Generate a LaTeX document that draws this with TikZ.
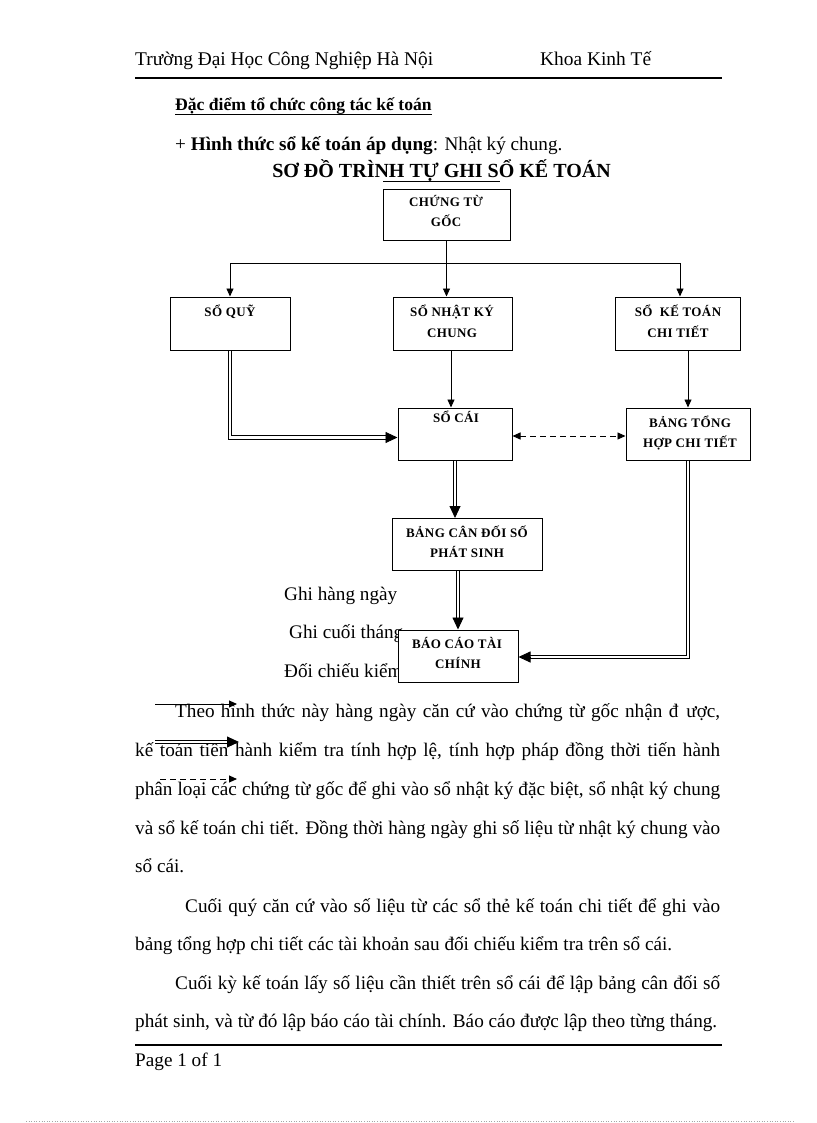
\documentclass[tikz,border=0pt]{standalone}
\usepackage{fontspec}
\setmainfont{Liberation Serif}
\newfontfamily\boxfont[LetterSpace=3]{Liberation Serif}
\usetikzlibrary{arrows.meta,calc}
\begin{document}
\begin{tikzpicture}[x=1pt,y=-1pt,
  box/.style={draw,line width=1pt,inner sep=0pt,fill=white},
  btxt/.style={font=\boxfont\bfseries\fontsize{13}{15}\selectfont,inner sep=0pt,anchor=base},
  body/.style={font=\fontsize{19.2}{21}\selectfont,inner sep=0pt,anchor=base west},
  hdr/.style={font=\fontsize{19.4}{21}\selectfont,inner sep=0pt,anchor=base west},
  thinln/.style={line width=0.9pt},
  tip/.style={line width=0.9pt,-{Triangle[length=8pt,width=7pt]}},
  dbl/.style={double,double distance=2.2pt,line width=1pt},
  bigtip/.style={line width=0.9pt,-{Triangle[length=12pt,width=11pt]}},
  rule/.style={line width=1.8pt},
]
\useasboundingbox (0,0) rectangle (816,1123);
\fill[white] (0,0) rectangle (816,1123);

% header
\node[hdr] (h1) at (135,66) {Trường Đại Học Công Nghiệp Hà Nội};
\node[hdr] (h2) at (540,66) {Khoa Kinh Tế};
\coordinate (hrL) at (135,78);
\coordinate (hrR) at (722,78);
\draw[rule] (hrL) -- (hrR);

\node[hdr,font=\bfseries\fontsize{17.6}{20}\selectfont] (s1) at (175,111) {Đặc điểm tổ chức công tác kế toán};
\draw[line width=1pt] ([yshift=-4pt]s1.base west) -- ([yshift=-4pt]s1.base east);
\node[hdr,font=\fontsize{19.2}{21}\selectfont] (s2) at (175,151) {+ \textbf{Hình thức sổ kế toán áp dụng}: Nhật ký chung.};

\node[font=\bfseries\fontsize{20}{22}\selectfont,inner sep=0pt,anchor=base] (title) at (441.5,178) {SƠ ĐỒ TRÌNH TỰ GHI SỔ KẾ TOÁN};
\coordinate (ulA) at (383,182);
\coordinate (ulB) at (500,182);
\draw[line width=1pt] (ulA) -- (ulB);

% legend texts (the rest is hidden by the report box)
\node[body] (lg1) at (284,600) {Ghi hàng ngày};
\node[body] (lg2) at (289,638) {Ghi cuối tháng};
\node[body] (lg3) at (284,677) {Đối chiếu kiểm};

% boxes
\node[box,minimum width=127pt,minimum height=50pt] (goc) at (446.5,215) {};
\node[box,minimum width=120pt,minimum height=53pt] (quy) at (230,323.5) {};
\node[box,minimum width=119pt,minimum height=53pt] (nkc) at (452.5,323.5) {};
\node[box,minimum width=125pt,minimum height=53pt] (sct) at (677.5,323.5) {};
\node[box,minimum width=114pt,minimum height=52pt] (cai) at (455,434) {};
\node[box,minimum width=124pt,minimum height=52pt] (bth) at (688,434) {};
\node[box,minimum width=150pt,minimum height=52pt] (bcd) at (467,544.5) {};
\node[box,minimum width=120pt,minimum height=52pt] (bctc) at (458,656) {};

% box texts
\node[btxt] (t1) at (446,207) {CHỨNG TỪ};
\node[btxt] (t2) at (446,227) {GỐC};
\node[btxt] (t3) at (230,316) {SỔ QUỸ};
\node[btxt] (t4) at (452,316) {SỔ NHẬT KÝ};
\node[btxt] (t5) at (452,337) {CHUNG};
\node[btxt] (t6) at (678,316) {SỔ \ KẾ TOÁN};
\node[btxt] (t7) at (678,337) {CHI TIẾT};
\node[btxt] (t8) at (456,422) {SỔ CÁI};
\node[btxt] (t9) at (690,427) {BẢNG TỔNG};
\node[btxt] (t10) at (690,447) {HỢP CHI TIẾT};
\node[btxt] (t11) at (467,537) {BẢNG CÂN ĐỐI SỐ};
\node[btxt] (t12) at (467,557) {PHÁT SINH};
\node[btxt] (t13) at (457,648) {BÁO CÁO TÀI};
\node[btxt] (t14) at (458,668) {CHÍNH};

% connectors from CHỨNG TỪ GỐC
\coordinate (jc) at (446.5,263);
\coordinate (jl) at (quy.north |- jc);
\coordinate (jr) at (680,263);
\draw[thinln] (goc.south) -- (jc);
\draw[thinln] (jl) -- (jr);
\draw[tip] (jl) -- (quy.north);
\draw[tip] (jc) -- (jc |- nkc.north);
\draw[tip] (jr) -- (jr |- sct.north);

% thin arrows down
\draw[tip] (nkc.south -| 451,0) -- (cai.north -| 451,0);
\draw[tip] (bth.north |- sct.south) -- (bth.north);

% dashed double-headed
\draw[line width=0.9pt,dash pattern=on 6pt off 4pt,{Triangle[length=8pt,width=7pt]}-{Triangle[length=8pt,width=7pt]}] ([yshift=-2pt]cai.east) -- ([yshift=-2pt]bth.west);

% double connectors
\draw[dbl] (quy.south) |- ([xshift=-11pt,yshift=-3.5pt]cai.west);
\draw[bigtip] ([xshift=-12pt,yshift=-3.5pt]cai.west) -- ([yshift=-3.5pt]cai.west);

\draw[dbl] (cai.south) -- ([yshift=11pt]cai.south |- bcd.north);
\draw[bigtip] ([yshift=12pt]cai.south |- bcd.north) -- (cai.south |- bcd.north);

\draw[dbl] (bctc.north |- bcd.south) -- ([yshift=11pt]bctc.north);
\draw[bigtip] ([yshift=12pt]bctc.north) -- (bctc.north);

\draw[dbl] (bth.south) |- ([xshift=11pt,yshift=-1pt]bctc.east);
\draw[bigtip] ([xshift=12pt,yshift=-1pt]bctc.east) -- ([yshift=-1pt]bctc.east);

% paragraph
\node[body] (p1) at (175,717) {\makebox[545pt][s]{Theo hình thức này hàng ngày căn cứ vào chứng từ gốc nhận đ\hspace{8pt}ược,}};
\node[body] (p2) at (135,756) {\makebox[585pt][s]{kế toán tiến hành kiểm tra tính hợp lệ, tính hợp pháp đồng thời tiến hành}};
\node[body] (p3) at (135,795) {\makebox[585pt][s]{phân loại các chứng từ gốc để ghi vào sổ nhật ký đặc biệt, sổ nhật ký chung}};
\node[body] (p4) at (135,834) {\makebox[585pt][s]{và sổ kế toán chi tiết. Đồng thời hàng ngày ghi số liệu từ nhật ký chung vào}};
\node[body] (p5) at (135,872) {sổ cái.};
\node[body] (p6) at (185,912) {\makebox[535pt][s]{Cuối quý căn cứ vào số liệu từ các sổ thẻ kế toán chi tiết để ghi vào}};
\node[body] (p7) at (135,950) {bảng tổng hợp chi tiết các tài khoản sau đối chiếu kiểm tra trên sổ cái.};
\node[body] (p8) at (175,989) {\makebox[545pt][s]{Cuối kỳ kế toán lấy số liệu cần thiết trên sổ cái để lập bảng cân đối số}};
\node[body] (p9) at (135,1027) {\makebox[582pt][s]{phát sinh, và từ đó lập báo cáo tài chính. Báo cáo được lập theo từng tháng.}};

% stray legend arrows over the paragraph
\coordinate (a1s) at (155,704);
\coordinate (a1e) at (237,704);
\draw[tip] (a1s) -- (a1e);
\coordinate (a2s) at (155,742);
\coordinate (a2e) at (227,742);
\coordinate (a2t) at (239,742);
\draw[dbl] (a2s) -- (a2e);
\draw[bigtip] (a2e) -- (a2t);
\coordinate (a3s) at (160,779);
\coordinate (a3e) at (237,779);
\draw[tip,dash pattern=on 6pt off 4pt] (a3s) -- (a3e);

% footer
\coordinate (frL) at (135,1045);
\coordinate (frR) at (722,1045);
\draw[rule] (frL) -- (frR);
\node[hdr,font=\fontsize{19.2}{21}\selectfont] (pg) at (135,1066) {Page 1 of 1};
\coordinate (dtL) at (26,1121);
\coordinate (dtR) at (795,1121);
\draw[black!35,line width=0.6pt,dotted] (dtL) -- (dtR);
\end{tikzpicture}
\end{document}
